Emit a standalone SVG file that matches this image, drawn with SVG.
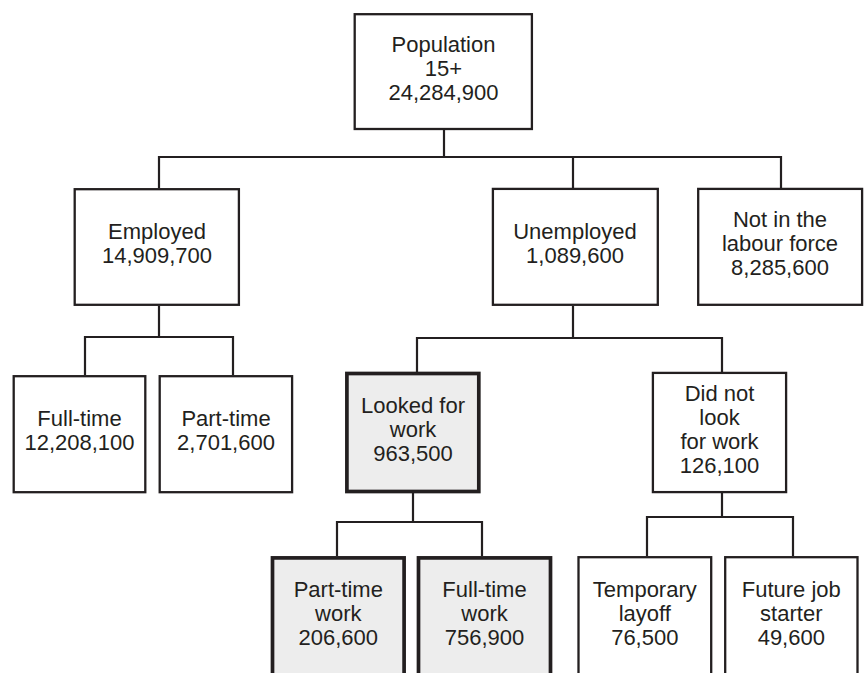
<svg xmlns="http://www.w3.org/2000/svg" width="864" height="673" viewBox="0 0 864 673">
<style>
.box{fill:#ffffff;stroke:#231f20;stroke-width:2.3}
.hl{fill:#ededed;stroke:#231f20;stroke-width:3.7}
.t{font-family:"Liberation Sans",Arial,Helvetica,sans-serif;font-size:22px;fill:#231f20;text-anchor:middle}
.c{fill:none;stroke:#231f20;stroke-width:2.2}
</style>
<rect width="864" height="673" fill="#ffffff"/>
<g id="connectors">
<path class="c" d="M444,130 V157 M159,188 V157 H781 V188 M573,157 V188"/>
<path class="c" d="M159,306 V337 M85,375 V337 H233 V375"/>
<path class="c" d="M573,306 V338 M417,372 V338 H722 V372"/>
<path class="c" d="M413,493 V522 M337,556 V522 H482 V556"/>
<path class="c" d="M722,493 V517 M647,556 V517 H793 V556"/>
</g>
<g id="population">
<rect class="box" x="354.7" y="14.2" width="177.2" height="114.8"/>
<text class="t" x="443.5" y="51.5">Population</text>
<text class="t" x="443.5" y="76">15+</text>
<text class="t" x="443.5" y="100">24,284,900</text>
</g>
<g id="employed">
<rect class="box" x="74.7" y="189.2" width="164.2" height="115.6"/>
<text class="t" x="157" y="239">Employed</text>
<text class="t" x="157" y="263">14,909,700</text>
</g>
<g id="unemployed">
<rect class="box" x="492.9" y="188.9" width="164.9" height="115.9"/>
<text class="t" x="575" y="239">Unemployed</text>
<text class="t" x="575" y="263">1,089,600</text>
</g>
<g id="not-in-labour-force">
<rect class="box" x="698.2" y="188.9" width="163.9" height="115.9"/>
<text class="t" x="780" y="227">Not in the</text>
<text class="t" x="780" y="251">labour force</text>
<text class="t" x="780" y="275">8,285,600</text>
</g>
<g id="full-time">
<rect class="box" x="13.7" y="376.2" width="131.6" height="116"/>
<text class="t" x="79.5" y="426">Full-time</text>
<text class="t" x="79.5" y="450">12,208,100</text>
</g>
<g id="part-time">
<rect class="box" x="159.7" y="376.2" width="132.4" height="116"/>
<text class="t" x="226" y="426">Part-time</text>
<text class="t" x="226" y="450">2,701,600</text>
</g>
<g id="looked-for-work">
<rect class="hl" x="346.9" y="373.5" width="131.9" height="118"/>
<text class="t" x="413" y="413">Looked for</text>
<text class="t" x="413" y="437">work</text>
<text class="t" x="413" y="461">963,500</text>
</g>
<g id="did-not-look">
<rect class="box" x="652.9" y="372.9" width="133.2" height="119.2"/>
<text class="t" x="719.5" y="401">Did not</text>
<text class="t" x="719.5" y="424.5">look</text>
<text class="t" x="719.5" y="448.5">for work</text>
<text class="t" x="719.5" y="472.5">126,100</text>
</g>
<g id="part-time-work">
<rect class="hl" x="272.5" y="557.9" width="131.6" height="130"/>
<text class="t" x="338.3" y="597">Part-time</text>
<text class="t" x="338.3" y="621">work</text>
<text class="t" x="338.3" y="645">206,600</text>
</g>
<g id="full-time-work">
<rect class="hl" x="418.5" y="557.9" width="132" height="130"/>
<text class="t" x="484.5" y="597">Full-time</text>
<text class="t" x="484.5" y="621">work</text>
<text class="t" x="484.5" y="645">756,900</text>
</g>
<g id="temporary-layoff">
<rect class="box" x="578.5" y="557.2" width="132.7" height="130"/>
<text class="t" x="644.8" y="597">Temporary</text>
<text class="t" x="644.8" y="621">layoff</text>
<text class="t" x="644.8" y="645">76,500</text>
</g>
<g id="future-job-starter">
<rect class="box" x="725.2" y="557.2" width="132.3" height="130"/>
<text class="t" x="791.3" y="597">Future job</text>
<text class="t" x="791.3" y="621">starter</text>
<text class="t" x="791.3" y="645">49,600</text>
</g>
</svg>
